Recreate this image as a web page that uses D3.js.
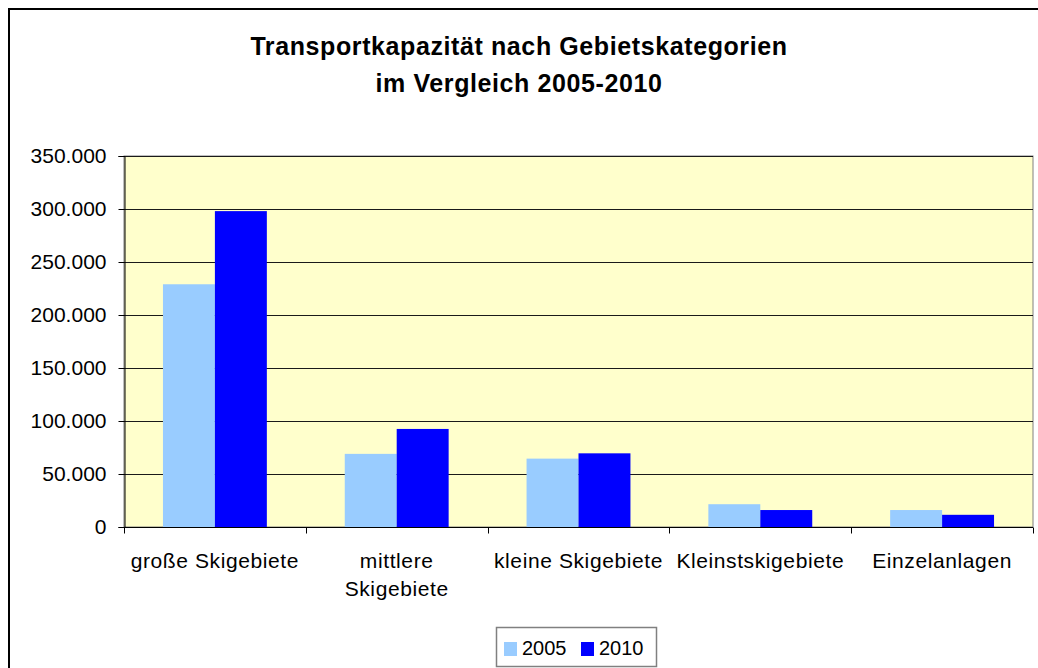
<!DOCTYPE html>
<html>
<head>
<meta charset="utf-8">
<script src="https://cdn.jsdelivr.net/npm/d3@7"></script>
<style>
  html, body { margin: 0; padding: 0; background: #fff; }
  svg { display: block; font-family: "Liberation Sans", Arial, sans-serif; }
</style>
</head>
<body>
<svg id="chart" width="1038" height="668"></svg>
<script>
const titleLines = ["Transportkapazität nach Gebietskategorien", "im Vergleich 2005-2010"];
const categories = ["große Skigebiete", "mittlere Skigebiete", "kleine Skigebiete", "Kleinstskigebiete", "Einzelanlagen"];
const seriesNames = ["2005", "2010"];
const values2005 = [229000, 69000, 64500, 21500, 16000];
const values2010 = [298000, 92500, 69500, 16000, 11500];
const yTicks = [0, 50000, 100000, 150000, 200000, 250000, 300000, 350000];
const seriesColors = ["#99CCFF", "#0000FF"];

const svg = d3.select("#chart");
const W = 1038, H = 668;
const plot = { left: 124, right: 1033, top: 156, bottom: 527 };

// outer chart border
svg.append("rect").attr("x", 9).attr("y", 9).attr("width", W + 10).attr("height", H + 10)
  .attr("fill", "#fff").attr("stroke", "#000").attr("stroke-width", 2);

// title
const title = svg.append("text").attr("text-anchor", "middle")
  .attr("font-size", 25).attr("font-weight", "bold").attr("letter-spacing", 0.6).attr("fill", "#000");
titleLines.forEach((t, i) => {
  title.append("tspan").attr("x", 519).attr("y", 55 + i * 37).text(t);
});

const x0 = d3.scaleBand().domain(categories).range([plot.left, plot.right]).paddingInner(0).paddingOuter(0);
const bw = x0.bandwidth();
const gap = bw * 1.5 / 3.5;
const x1 = d3.scaleBand().domain(seriesNames).range([gap / 2, bw - gap / 2]).padding(0);
const y = d3.scaleLinear().domain([0, 350000]).range([plot.bottom, plot.top]);

const de = d3.formatLocale({ decimal: ",", thousands: ".", grouping: [3], currency: ["", " €"] });
const fmt = de.format(",d");

// plot area
svg.append("rect").attr("x", plot.left).attr("y", plot.top)
  .attr("width", plot.right - plot.left).attr("height", plot.bottom - plot.top)
  .attr("fill", "#FFFFCC").attr("stroke", "#808080").attr("stroke-width", 1);

// gridlines
svg.append("g").selectAll("line").data(yTicks.filter(d => d > 0)).join("line")
  .attr("x1", plot.left).attr("x2", plot.right)
  .attr("y1", d => Math.round(y(d)) + 0.5).attr("y2", d => Math.round(y(d)) + 0.5)
  .attr("stroke", "#1a1a1a").attr("stroke-width", 1.2);

// bars
const data = categories.map((c, i) => ({ cat: c, vals: [values2005[i], values2010[i]] }));
const groups = svg.append("g").selectAll("g").data(data).join("g")
  .attr("transform", d => `translate(${x0(d.cat)},0)`);
groups.selectAll("rect").data(d => d.vals.map((v, j) => ({ v, s: seriesNames[j], j }))).join("rect")
  .attr("x", d => x1(d.s)).attr("width", x1.bandwidth())
  .attr("y", d => y(d.v)).attr("height", d => plot.bottom - y(d.v))
  .attr("fill", d => seriesColors[d.j]);

// y axis
const yAxis = svg.append("g").attr("transform", `translate(${plot.left + 0.5},0)`)
  .call(d3.axisLeft(y).tickValues(yTicks).tickFormat(fmt).tickSize(6).tickPadding(12));
yAxis.select(".domain").attr("stroke", "#000");
yAxis.selectAll(".tick line").attr("stroke", "#000");
yAxis.selectAll(".tick text").attr("font-size", 21).attr("fill", "#000")
  .attr("font-family", "Liberation Sans, Arial, sans-serif");

// x axis
const xAxis = svg.append("g").attr("transform", `translate(0,${plot.bottom + 0.5})`);
xAxis.append("line").attr("x1", plot.left).attr("x2", plot.right).attr("stroke", "#000");
const bounds = categories.map(c => x0(c)).concat([plot.right]);
xAxis.selectAll("line.tk").data(bounds).join("line").attr("class", "tk")
  .attr("x1", d => Math.round(d) + 0.5).attr("x2", d => Math.round(d) + 0.5)
  .attr("y1", 0).attr("y2", 6).attr("stroke", "#000");

const labels = xAxis.selectAll("text.lbl").data(categories).join("text").attr("class", "lbl")
  .attr("text-anchor", "middle").attr("font-size", 21).attr("letter-spacing", 0.6).attr("fill", "#000")
  .attr("x", d => x0(d) + bw / 2).attr("y", 40);
labels.each(function (d) {
  const t = d3.select(this);
  t.text(d);
  const cx = x0(d) + bw / 2;
  if (this.getComputedTextLength() > bw - 6) {
    const words = d.split(" ");
    t.text(null);
    words.forEach((w, i) => t.append("tspan").attr("x", cx).attr("dy", i === 0 ? 0 : 28).text(w));
  }
});

// legend
const lg = svg.append("g");
lg.append("rect").attr("x", 496.5).attr("y", 627.5).attr("width", 160).attr("height", 39)
  .attr("fill", "#fff").attr("stroke", "#808080").attr("stroke-width", 1.5);
const legendX = [504, 581];
seriesNames.forEach((s, i) => {
  lg.append("rect").attr("x", legendX[i]).attr("y", 642).attr("width", 13).attr("height", 14).attr("fill", seriesColors[i]);
  lg.append("text").attr("x", legendX[i] + 18).attr("y", 655).attr("font-size", 20).attr("fill", "#000").text(s);
});
</script>
</body>
</html>
